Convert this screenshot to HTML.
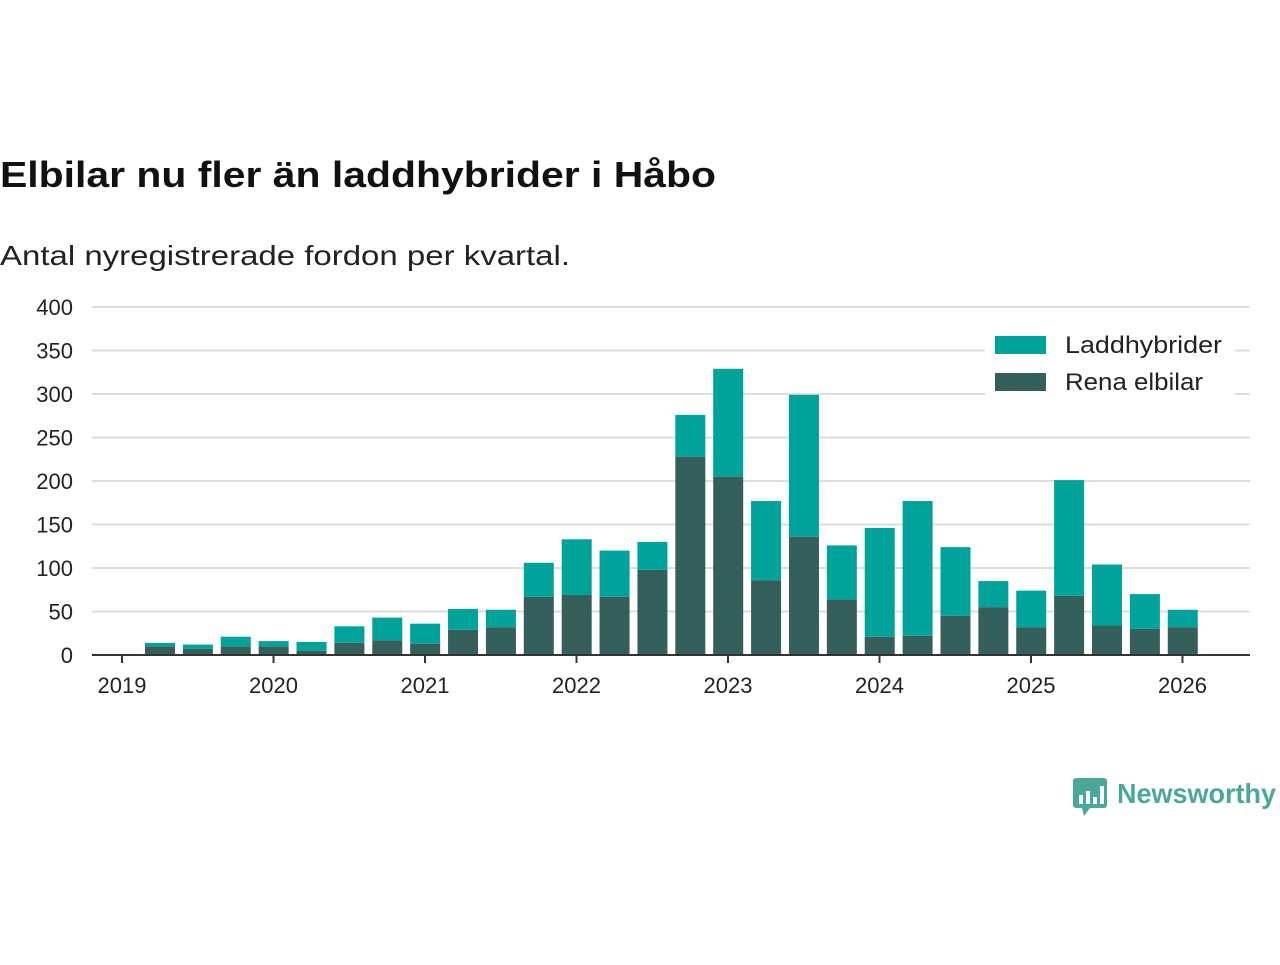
<!DOCTYPE html>
<html><head><meta charset="utf-8"><style>
body{margin:0;width:1280px;height:960px;background:#fff;font-family:"Liberation Sans",sans-serif;overflow:hidden}
svg text{font-family:"Liberation Sans",sans-serif}
</style></head><body>
<svg id="c" width="1280" height="960">
<text x="0" y="187" font-size="36" font-weight="bold" fill="#111" textLength="716" lengthAdjust="spacingAndGlyphs">Elbilar nu fler än laddhybrider i Håbo</text>
<text x="0" y="265" font-size="28" fill="#222" textLength="570" lengthAdjust="spacingAndGlyphs">Antal nyregistrerade fordon per kvartal.</text>
<g id="grid"></g><g id="bars"></g><g id="axis"></g>
<g>
<rect x="985" y="330" width="250" height="65" fill="#fff"/>
<rect x="995" y="336" width="51" height="18" fill="#00a39a"/>
<text x="1065" y="353" font-size="24" fill="#222" textLength="157" lengthAdjust="spacingAndGlyphs">Laddhybrider</text>
<rect x="995" y="373" width="51" height="18" fill="#345f5a"/>
<text x="1065" y="390" font-size="24" fill="#222" textLength="138" lengthAdjust="spacingAndGlyphs">Rena elbilar</text>
</g>
<g>
<rect x="1073" y="778" width="34" height="30" rx="3" fill="#4aa79a"/>
<path d="M1082 808 L1090 808 L1084 816 Z" fill="#4aa79a"/>
<rect x="1079" y="795" width="4" height="9" fill="#fff"/><rect x="1086" y="791" width="4" height="13" fill="#fff"/><rect x="1093" y="797" width="4" height="7" fill="#fff"/><rect x="1100" y="786" width="4" height="18" fill="#fff"/>
<text x="1117" y="803" font-size="28" font-weight="bold" fill="#4aa79a" textLength="159" lengthAdjust="spacingAndGlyphs">Newsworthy</text>
</g>
</svg>
<script>
const quarters=["2019Q2","2019Q3","2019Q4","2020Q1","2020Q2","2020Q3","2020Q4","2021Q1","2021Q2","2021Q3","2021Q4","2022Q1","2022Q2","2022Q3","2022Q4","2023Q1","2023Q2","2023Q3","2023Q4","2024Q1","2024Q2","2024Q3","2024Q4","2025Q1","2025Q2","2025Q3","2025Q4","2026Q1"];
const elbilar=[10,7,10,10,5,14,17,13,29,32,67,69,67,98,228,205,86,136,64,21,22,45,55,32,68,34,30,32];
const laddhybrider=[4,5,11,6,10,19,26,23,24,20,39,64,53,32,48,124,91,163,62,125,155,79,30,42,133,70,40,20];
const yTicks=[0,50,100,150,200,250,300,350,400];
const xYears=[2019,2020,2021,2022,2023,2024,2025,2026];
const NS="http://www.w3.org/2000/svg";
const y=v=>655-v*0.87;
const x=i=>160+i*37.88;
const yearX=yr=>122+(yr-2019)*151.5;
function mk(t,a,p){const e=document.createElementNS(NS,t);for(const k in a)e.setAttribute(k,a[k]);p.appendChild(e);return e;}
const g=document.getElementById('grid'),b=document.getElementById('bars'),ax=document.getElementById('axis');
yTicks.forEach(v=>{
 const l=mk('line',{x1:92,x2:1250,y1:y(v),y2:y(v),stroke:'#ddd','stroke-width':2},g);
 
 
 const t=mk('text',{x:73,y:y(v)+8,'font-size':22,'text-anchor':'end',fill:'#222'},ax);t.textContent=v;
 
 
});
quarters.forEach((q,i)=>{
 const e=elbilar[i],h=laddhybrider[i];
 const r1=mk('rect',{x:x(i)-15,y:y(e),width:30,height:y(0)-y(e),fill:'#345f5a'},b);
 
 
 const r2=mk('rect',{x:x(i)-15,y:y(e+h),width:30,height:y(e)-y(e+h),fill:'#00a39a'},b);
 
 
});
const base=mk('line',{x1:92,x2:1250,y1:655,y2:655,stroke:'#333','stroke-width':2},ax);


xYears.forEach(yr=>{
 mk('line',{x1:yearX(yr),x2:yearX(yr),y1:655,y2:663,stroke:'#333','stroke-width':2},ax);
 const t=mk('text',{x:yearX(yr),y:693,'font-size':22,'text-anchor':'middle',fill:'#222'},ax);t.textContent=yr;
 
 
});
</script>
</body></html>
